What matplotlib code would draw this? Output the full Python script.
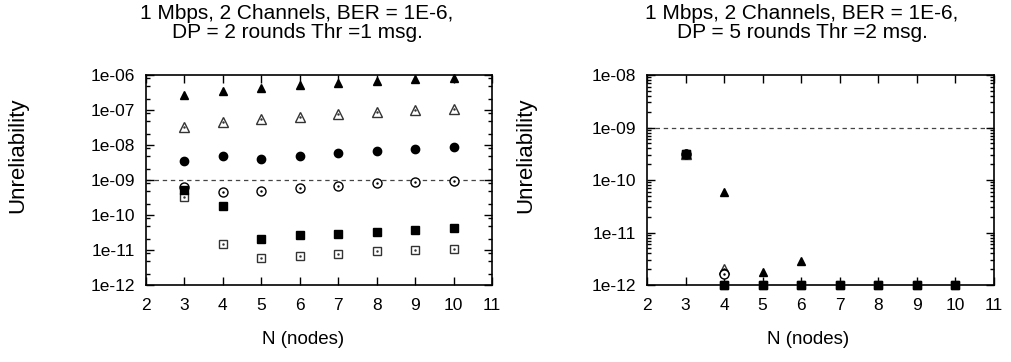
import numpy as np
import matplotlib
matplotlib.use('Agg')
import matplotlib.pyplot as plt
from matplotlib.ticker import LogLocator, FuncFormatter, FixedLocator

plt.rcParams['font.family'] = ['Liberation Sans', 'DejaVu Sans']

nodes = [3, 4, 5, 6, 7, 8, 9, 10]

# DP = 2 rounds, Thr = 1 msg
left_tri_filled = [2.6e-7, 3.5e-7, 4.2e-7, 5.2e-7, 6.0e-7, 6.9e-7, 7.7e-7, 8.2e-7]
left_tri_open = [3.2e-8, 4.4e-8, 5.4e-8, 6.4e-8, 7.7e-8, 8.6e-8, 1.0e-7, 1.05e-7]
left_circ_filled = [3.5e-9, 4.7e-9, 4.1e-9, 5.0e-9, 5.8e-9, 6.7e-9, 7.5e-9, 8.5e-9]
left_circ_open = [6.4e-10, 4.6e-10, 4.8e-10, 5.9e-10, 6.9e-10, 8.0e-10, 8.9e-10, 9.6e-10]
left_sq_filled = [5.2e-10, 1.85e-10, 2.06e-11, 2.7e-11, 2.9e-11, 3.3e-11, 3.7e-11, 4.2e-11]
left_sq_open = [3.3e-10, 1.45e-11, 5.8e-12, 6.9e-12, 7.8e-12, 9.1e-12, 1.0e-11, 1.1e-11]

# DP = 5 rounds, Thr = 2 msg
right_tri_filled = [3.2e-10, 6.0e-11, 1.8e-12, 2.9e-12, np.nan, np.nan, np.nan, np.nan]
right_tri_open = [3.1e-10, 2.0e-12, np.nan, np.nan, np.nan, np.nan, np.nan, np.nan]
right_circ_filled = [3.1e-10, 1.7e-12, np.nan, np.nan, np.nan, np.nan, np.nan, np.nan]
right_circ_open = [3.1e-10, 1.6e-12, np.nan, np.nan, np.nan, np.nan, np.nan, np.nan]
right_sq_filled = [3.1e-10, 1e-12, 1e-12, 1e-12, 1e-12, 1e-12, 1e-12, 1e-12]
right_sq_open = [3.1e-10, 1e-12, 1e-12, 1e-12, 1e-12, 1e-12, 1e-12, 1e-12]

threshold = 1e-9

titles = ['1 Mbps, 2 Channels, BER = 1E-6,\nDP = 2 rounds Thr =1 msg.',
          '1 Mbps, 2 Channels, BER = 1E-6,\nDP = 5 rounds Thr =2 msg.']


def draw(ax, series, ylim, subs):
    tri_f, tri_o, circ_f, circ_o, sq_f, sq_o = series
    ax.axhline(threshold, color='#444444', lw=0.9, ls=(0, (3.5, 3)), zorder=1)
    kw = dict(ls='none', clip_on=False, zorder=3)
    ax.plot(nodes, tri_f, marker='^', ms=6, color='black', **kw)
    ax.plot(nodes, tri_o, marker='^', ms=7, mfc='white', mec='#333333', mew=1.0, **kw)
    ax.plot(nodes, tri_o, marker='.', ms=1.5, color='#333333', **kw)
    ax.plot(nodes, circ_f, marker='o', ms=6, color='black', **kw)
    ax.plot(nodes, circ_o, marker='o', ms=6.5, mfc='white', mec='black', mew=1.0, **kw)
    ax.plot(nodes, circ_o, marker='.', ms=1.5, color='black', **kw)
    ax.plot(nodes, sq_o, marker='s', ms=6, mfc='white', mec='#333333', mew=1.0, **kw)
    ax.plot(nodes, sq_o, marker='.', ms=1.5, color='#333333', **kw)
    ax.plot(nodes, sq_f, marker='s', ms=6, color='black', **kw)

    ax.set_yscale('log')
    ax.set_ylim(*ylim)
    ax.set_xlim(2, 11)
    ax.xaxis.set_major_locator(FixedLocator(range(2, 12)))
    ax.yaxis.set_major_locator(LogLocator(base=10, numticks=20))
    ax.yaxis.set_minor_locator(LogLocator(base=10, subs=subs, numticks=20))
    ax.yaxis.set_major_formatter(FuncFormatter(lambda v, p: f'{v:.0e}'))
    ax.tick_params(which='both', direction='in', top=True, right=True,
                   labelsize=12.5, width=1.0)
    ax.tick_params(axis='x', which='major', length=6, pad=9)
    ax.tick_params(axis='y', which='major', length=6, pad=8)
    ax.tick_params(which='minor', length=3)
    for s in ax.spines.values():
        s.set_linewidth(1.2)


fig = plt.figure(figsize=(10.11, 3.62), dpi=100)
ax1 = fig.add_axes([146 / 1011, 1 - 285 / 362, 346 / 1011, 210 / 362])
ax2 = fig.add_axes([647 / 1011, 1 - 285 / 362, 347 / 1011, 210 / 362])

draw(ax1, [left_tri_filled, left_tri_open, left_circ_filled, left_circ_open,
           left_sq_filled, left_sq_open], (1e-12, 1e-6), [2, 5, 8])
draw(ax2, [right_tri_filled, right_tri_open, right_circ_filled, right_circ_open,
           right_sq_filled, right_sq_open], (1e-12, 1e-8), np.arange(2, 10))

# titles and axis labels sit slightly left of the plot centres
for cx, ylx, title in [(297, 18, titles[0]), (802, 526, titles[1])]:
    fig.text(cx / 1011, 1 - 23 / 362, title, ha='center', va='center',
             fontsize=15, linespacing=1.0)
    fig.text(ylx / 1011, 1 - 155 / 362, 'Unreliability', ha='center', va='center',
             rotation=90, fontsize=16)
    fig.text((cx + 6) / 1011, 1 - 340 / 362, 'N (nodes)', ha='center', va='center',
             fontsize=13.5)

fig.savefig('out.png', dpi=100)
